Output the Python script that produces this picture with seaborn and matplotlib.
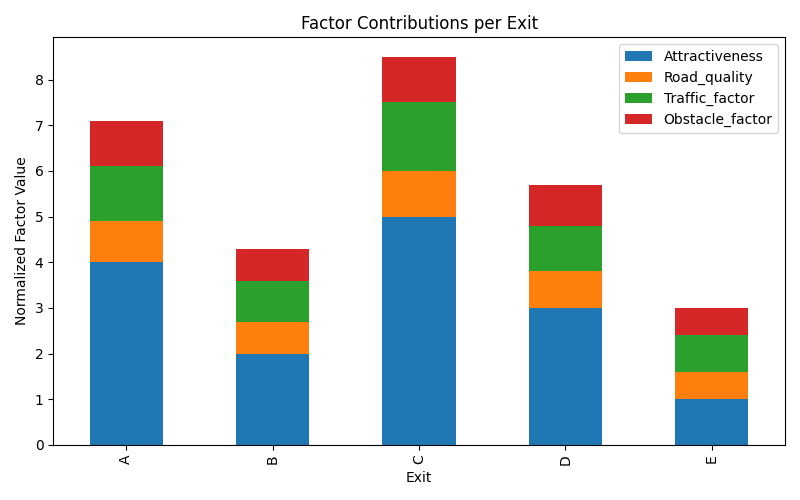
import pandas as pd
import numpy as np
import matplotlib
matplotlib.use("Agg")
import matplotlib.pyplot as plt
import seaborn as sns

exits = ["A", "B", "C", "D", "E"]
attractiveness = [4.0, 2.0, 5.0, 3.0, 1.0]
road_quality = [0.9, 0.7, 1.0, 0.8, 0.6]
traffic_factor = [1.2, 0.9, 1.5, 1.0, 0.8]
obstacle_factor = [1.0, 0.7, 1.0, 0.9, 0.6]

factors = ["Attractiveness", "Road_quality", "Traffic_factor", "Obstacle_factor"]
colors = ["#1f77b4", "#ff7f0e", "#2ca02c", "#d62728"]

df = pd.DataFrame({
    "Exit": exits,
    "Attractiveness": attractiveness,
    "Road_quality": road_quality,
    "Traffic_factor": traffic_factor,
    "Obstacle_factor": obstacle_factor,
})

# cumulative heights so that each layer sits on top of the previous one
cum = df[factors].cumsum(axis=1)

fig, ax = plt.subplots(figsize=(8, 5), dpi=100)

# draw tallest layer first so lower layers cover it
for name, color in reversed(list(zip(factors, colors))):
    sns.barplot(x=df["Exit"], y=cum[name], color=color, width=0.5,
                saturation=1, ax=ax, label=name)

handles, labels = ax.get_legend_handles_labels()
order = [labels.index(f) for f in factors]
ax.legend([handles[i] for i in order], [labels[i] for i in order], loc="upper right")

ax.set_title("Factor Contributions per Exit")
ax.set_xlabel("Exit")
ax.set_ylabel("Normalized Factor Value")
ax.tick_params(axis="x", rotation=90)
ax.set_xlim(-0.5, 4.5)

plt.tight_layout()
plt.savefig("out.png")
